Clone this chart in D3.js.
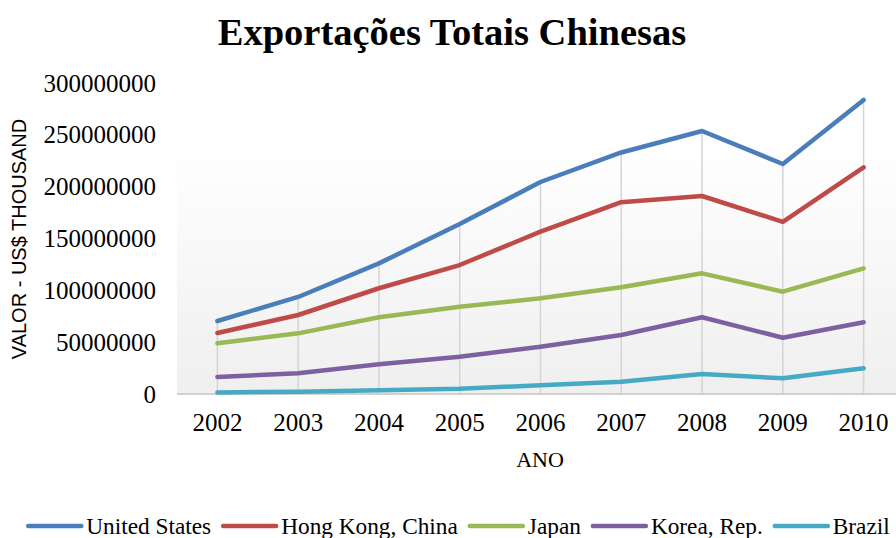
<!DOCTYPE html>
<html>
<head>
<meta charset="utf-8">
<script src="https://cdn.jsdelivr.net/npm/d3@7"></script>
<style>
  html, body { margin: 0; padding: 0; background: #fff; }
  svg { display: block; }
</style>
</head>
<body>
<svg id="chart" width="896" height="538"></svg>
<script>
// Years on the category axis
const years = ["2002", "2003", "2004", "2005", "2006", "2007", "2008", "2009", "2010"];

// Chinese exports by destination, US$ thousand
const unitedStates = [70400000, 93600000, 126000000, 164000000, 204500000, 233000000, 253700000, 221900000, 283600000];
const hongKong     = [58800000, 76200000, 102000000, 124400000, 156600000, 185000000, 191000000, 166000000, 218700000];
const japan        = [49000000, 58500000, 74000000, 84200000, 92300000, 102900000, 116400000, 98700000, 121200000];
const korea        = [16400000, 20000000, 28600000, 36000000, 45600000, 56900000, 74000000, 54300000, 69200000];
const brazil       = [1500000, 2200000, 3700000, 5100000, 8400000, 11900000, 19300000, 15100000, 24800000];

const yTicks = [0, 50000000, 100000000, 150000000, 200000000, 250000000, 300000000];

const seriesNames = ["United States", "Hong Kong, China", "Japan", "Korea, Rep.", "Brazil"];
const seriesValues = [unitedStates, hongKong, japan, korea, brazil];
const colors = ["#4a7ebb", "#be4b48", "#98b954", "#7d60a0", "#46aac5"];

const series = seriesNames.map((name, i) => ({ name, color: colors[i], values: seriesValues[i] }));

const svg = d3.select("#chart");
const W = 896, H = 538;
const plot = { left: 177, right: 904, top: 83, bottom: 394 };
const serif = "'Liberation Serif', 'Times New Roman', serif";

const x = d3.scaleBand().domain(years).range([plot.left, plot.right]).padding(0);
const cx = d => x(d) + x.bandwidth() / 2;
const y = d3.scaleLinear().domain([0, 300000000]).range([plot.bottom, plot.top]);

// Plot area background: soft vertical gradient
const defs = svg.append("defs");
const grad = defs.append("linearGradient").attr("id", "plotBg").attr("x1", 0).attr("y1", 0).attr("x2", 0).attr("y2", 1);
grad.append("stop").attr("offset", "0%").attr("stop-color", "#ffffff");
grad.append("stop").attr("offset", "20%").attr("stop-color", "#ffffff");
grad.append("stop").attr("offset", "100%").attr("stop-color", "#efefef");
svg.append("rect")
  .attr("x", plot.left).attr("y", plot.top)
  .attr("width", W - plot.left).attr("height", plot.bottom - plot.top)
  .attr("fill", "url(#plotBg)");

// Drop lines from the axis up to the highest series at each year
const maxPerYear = years.map((yr, i) => d3.max(series, s => s.values[i]));
svg.append("g").selectAll("line").data(years).join("line")
  .attr("x1", d => cx(d)).attr("x2", d => cx(d))
  .attr("y1", plot.bottom).attr("y2", (d, i) => y(maxPerYear[i]))
  .attr("stroke", "#d4d4d4").attr("stroke-width", 1.5);

// Category axis baseline
svg.append("line")
  .attr("x1", plot.left).attr("x2", W)
  .attr("y1", plot.bottom).attr("y2", plot.bottom)
  .attr("stroke", "#d0d0d0").attr("stroke-width", 2);

// Value axis labels
const yAxis = d3.axisLeft(y).tickValues(yTicks).tickFormat(d3.format("d")).tickSize(0).tickPadding(0);
const gy = svg.append("g").attr("transform", "translate(156,0)").call(yAxis);
gy.select(".domain").remove();
gy.selectAll("text")
  .attr("font-family", serif)
  .attr("font-size", 25).attr("fill", "#000").attr("dy", "0.32em");

// Category axis labels
const xAxis = d3.axisBottom(x).tickSize(0).tickPadding(0);
const gx = svg.append("g").attr("transform", `translate(0,${plot.bottom})`).call(xAxis);
gx.select(".domain").remove();
gx.selectAll("text")
  .attr("font-family", serif)
  .attr("font-size", 25).attr("fill", "#000").attr("dy", null).attr("y", 37);

// Series lines
const line = d3.line().x((d, i) => cx(years[i])).y(d => y(d));
svg.append("g").selectAll("path").data(series).join("path")
  .attr("d", d => line(d.values))
  .attr("fill", "none").attr("stroke", d => d.color)
  .attr("stroke-width", 4.5).attr("stroke-linejoin", "round").attr("stroke-linecap", "round");

// Title
svg.append("text")
  .attr("x", 452).attr("y", 45).attr("text-anchor", "middle")
  .attr("font-family", serif)
  .attr("font-weight", "bold").attr("font-size", 38.5).attr("fill", "#000")
  .text("Exportações Totais Chinesas");

// Axis titles
svg.append("text")
  .attr("transform", "translate(26,239) rotate(-90)").attr("text-anchor", "middle")
  .attr("font-family", "'Liberation Sans', Arial, sans-serif")
  .attr("font-size", 20).attr("fill", "#000")
  .text("VALOR - US$ THOUSAND");

svg.append("text")
  .attr("x", 540).attr("y", 467).attr("text-anchor", "middle")
  .attr("font-family", serif)
  .attr("font-size", 22).attr("fill", "#000")
  .text("ANO");

// Legend, laid out left to right and centred
const legend = svg.append("g");
const swatch = 53, swGap = 5, itemGap = 12;
let cursor = 0;
series.forEach(s => {
  const item = legend.append("g").attr("transform", `translate(${cursor},0)`);
  item.append("line").attr("x1", 0).attr("x2", swatch).attr("y1", 0).attr("y2", 0)
    .attr("stroke", s.color).attr("stroke-width", 4.5).attr("stroke-linecap", "round");
  const t = item.append("text").attr("x", swatch + swGap).attr("y", 0).attr("dy", "0.35em")
    .attr("font-family", serif)
    .attr("font-size", 23.3).attr("fill", "#000").text(s.name);
  cursor += swatch + swGap + t.node().getComputedTextLength() + itemGap;
});
const legendWidth = cursor - itemGap;
legend.attr("transform", `translate(${459 - legendWidth / 2},526)`);
</script>
</body>
</html>
